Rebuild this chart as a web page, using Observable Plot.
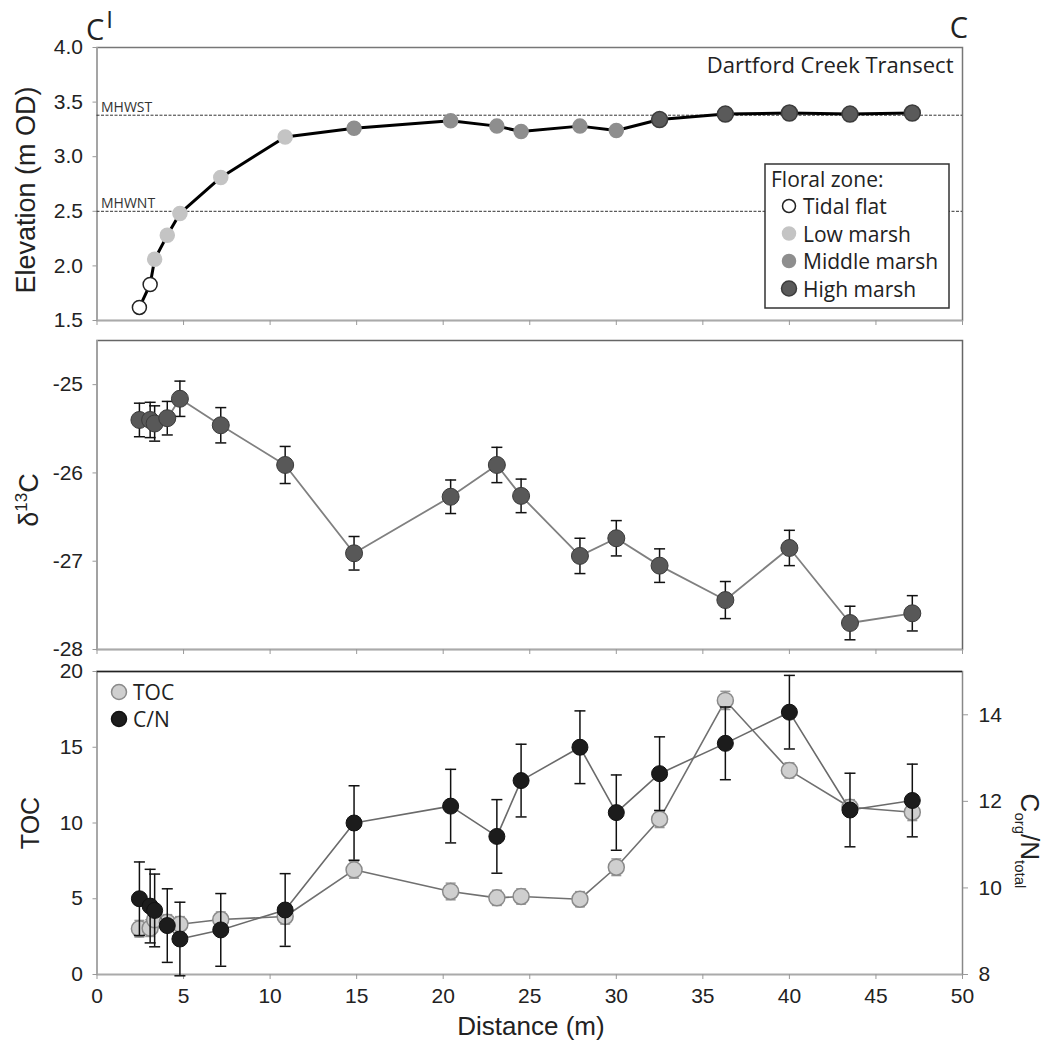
<!DOCTYPE html>
<html><head><meta charset="utf-8">
<script src="https://cdn.jsdelivr.net/npm/d3@7"></script>
<script src="https://cdn.jsdelivr.net/npm/@observablehq/plot@0.6"></script>
<style>
body{margin:0;background:#fff;}
#wrap{position:relative;width:1047px;height:1043px;overflow:hidden;background:#fff;}
#wrap svg{position:absolute;left:0;overflow:visible;}
</style></head><body><div id="wrap"></div>
<script>
// ---------- data ----------
const distance = [2.45, 3.07, 3.33, 4.06, 4.79, 7.15, 10.87, 14.85, 20.43, 23.1, 24.5, 27.9, 30.0, 32.5, 36.3, 40.0, 43.5, 47.1];
const elevation = [1.62, 1.83, 2.06, 2.28, 2.48, 2.81, 3.18, 3.26, 3.33, 3.28, 3.23, 3.28, 3.24, 3.34, 3.39, 3.40, 3.39, 3.40];
const zone = ["Tidal flat","Tidal flat","Low marsh","Low marsh","Low marsh","Low marsh","Low marsh",
  "Middle marsh","Middle marsh","Middle marsh","Middle marsh","Middle marsh","Middle marsh",
  "High marsh","High marsh","High marsh","High marsh","High marsh"];
const zones = ["Tidal flat","Low marsh","Middle marsh","High marsh"];
const zoneFill = ["#ffffff","#c4c4c4","#8e8e8e","#5a5a5a"];
const zoneStroke = ["#222222","#c4c4c4","#8e8e8e","#3c3c3c"];
const zoneR = [7, 7, 7, 8];
const tideLevels = [3.38, 2.5];
const tideNames = ["MHWST","MHWNT"];

const d13C = [-25.40, -25.40, -25.44, -25.38, -25.16, -25.46, -25.91, -26.91, -26.27, -25.91, -26.26, -26.94, -26.74, -27.05, -27.44, -26.85, -27.70, -27.59];
const d13CErr = [0.19, 0.20, 0.20, 0.19, 0.20, 0.20, 0.21, 0.19, 0.19, 0.20, 0.19, 0.20, 0.20, 0.19, 0.21, 0.20, 0.19, 0.20];

const toc = [3.02, 3.06, 3.61, 3.45, 3.32, 3.63, 3.83, 6.91, 5.48, 5.06, 5.15, 4.97, 7.08, 10.25, 18.09, 13.47, 11.04, 10.71];
const tocErr = [0.55, 0.55, 0.5, 0.5, 0.5, 0.5, 0.5, 0.55, 0.55, 0.5, 0.5, 0.5, 0.55, 0.55, 0.6, 0.5, 0.5, 0.55];
const cn = [9.75, 9.58, 9.48, 9.13, 8.82, 9.03, 9.49, 11.50, 11.89, 11.19, 12.48, 13.25, 11.74, 12.64, 13.34, 14.06, 11.80, 12.02];
const cnErr = [0.85, 0.85, 0.84, 0.85, 0.85, 0.84, 0.84, 0.86, 0.85, 0.85, 0.84, 0.84, 0.87, 0.85, 0.84, 0.85, 0.85, 0.84];

const xTicks = [0, 5, 10, 15, 20, 25, 30, 35, 40, 45, 50];
const elevTicks = [1.5, 2.0, 2.5, 3.0, 3.5, 4.0];
const d13CTicks = [-25, -26, -27, -28];
const tocTicks = [0, 5, 10, 15, 20];
const cnTicks = [8, 10, 12, 14];
const tocDomain = [0, 20];
const cnDomain = [8, 15];

// ---------- helpers ----------
const W = 1047, ML = 96.5, MR = 85;
const tickFont = "Liberation Sans, Arial, sans-serif";
const labFont = "Open Sans, Noto Sans, sans-serif";
const cap = {draw(ctx, size){ const h = Math.sqrt(size/Math.PI); ctx.moveTo(-h,0); ctx.lineTo(h,0); }};
const cnToY = v => tocDomain[0] + (v - cnDomain[0]) * (tocDomain[1]-tocDomain[0])/(cnDomain[1]-cnDomain[0]);

const rows = distance.map((d,i) => ({distance:d, elevation:elevation[i], zone:zone[i],
  d13C:d13C[i], d13CErr:d13CErr[i], toc:toc[i], tocErr:tocErr[i], cn:cn[i], cnErr:cnErr[i]}));

const wrap = document.getElementById("wrap");
function place(svg, top){ svg.style.top = top + "px"; wrap.appendChild(svg); }
const baseStyle = {fontFamily: tickFont, fontSize: "21px", color: "#222", background: "transparent", overflow:"visible"};

// ---------- panel 1: elevation ----------
const p1 = Plot.plot({
  width: W, height: 335, marginTop: 47, marginBottom: 15, marginLeft: ML, marginRight: MR,
  style: baseStyle,
  x: {domain: [0, 50]}, y: {domain: [1.5, 4.0]},
  marks: [
    Plot.frame({stroke: "#777", strokeWidth: 1.5}),
    Plot.ruleX([0], {stroke: "#aaa", strokeWidth: 1.5}),
    Plot.ruleY([1.5], {stroke: "#aaa", strokeWidth: 1.5}),
    Plot.axisX({ticks: xTicks, tickFormat: () => "", tickSize: 5, stroke: "#999", label: null}),
    Plot.axisY({ticks: elevTicks, tickFormat: d3.format(".1f"), tickSize: 4, tickPadding: 10, stroke: "#999", label: null}),
    Plot.ruleY(tideLevels, {stroke: "#333", strokeWidth: 1, strokeDasharray: "3,1.5"}),
    Plot.text(tideLevels, {y: d => d, frameAnchor: "left", text: (d,i) => tideNames[i], dx: 4, dy: -3,
      lineAnchor: "bottom", textAnchor: "start", fontSize: 14, fill: "#333", fontFamily: labFont}),
    Plot.line(rows, {x: "distance", y: "elevation", stroke: "#000", strokeWidth: 3}),
    ...zones.map((z,i) => Plot.dot(rows.filter(d => d.zone === z), {x: "distance", y: "elevation",
      r: zoneR[i], fill: zoneFill[i], stroke: zoneStroke[i], strokeWidth: 1.5})),
    Plot.text(["Dartford Creek Transect"], {frameAnchor: "top-right", dx: -9, dy: 10, lineAnchor: "top",
      fontSize: 22, fill: "#222", fontFamily: labFont})
  ]
});
place(p1, 0);

// ---------- panel 2: d13C ----------
const p2 = Plot.plot({
  width: W, height: 320, marginTop: 5, marginBottom: 6, marginLeft: ML, marginRight: MR,
  style: baseStyle,
  x: {domain: [0, 50]}, y: {domain: [-28, -24.5]},
  marks: [
    Plot.frame({stroke: "#666", strokeWidth: 1.5}),
    Plot.ruleX([0], {stroke: "#aaa", strokeWidth: 1.5}),
    Plot.ruleY([-28], {stroke: "#aaa", strokeWidth: 1.5}),
    Plot.axisX({ticks: xTicks, tickFormat: () => "", tickSize: 5, stroke: "#999", label: null}),
    Plot.axisY({ticks: d13CTicks, tickFormat: d => String(d), tickSize: 4, tickPadding: 10, stroke: "#999", label: null}),
    Plot.line(rows, {x: "distance", y: "d13C", stroke: "#808080", strokeWidth: 1.8}),
    Plot.ruleX(rows, {x: "distance", y1: d => d.d13C - d.d13CErr, y2: d => d.d13C + d.d13CErr, stroke: "#111", strokeWidth: 1.5}),
    Plot.dot(rows, {x: "distance", y: d => d.d13C - d.d13CErr, symbol: cap, r: 5.5, fill: "none", stroke: "#111", strokeWidth: 1.5}),
    Plot.dot(rows, {x: "distance", y: d => d.d13C + d.d13CErr, symbol: cap, r: 5.5, fill: "none", stroke: "#111", strokeWidth: 1.5}),
    Plot.dot(rows, {x: "distance", y: "d13C", r: 8.5, fill: "#585858", stroke: "#3a3a3a", strokeWidth: 1})
  ]
});
place(p2, 335);

// ---------- panel 3: TOC & C/N ----------
const p3 = Plot.plot({
  width: W, height: 388, marginTop: 16, marginBottom: 69, marginLeft: ML, marginRight: MR,
  style: baseStyle,
  x: {domain: [0, 50]}, y: {domain: tocDomain},
  marks: [
    Plot.frame({stroke: "#888", strokeWidth: 1.5}),
    Plot.ruleX([0], {stroke: "#aaa", strokeWidth: 1.5}),
    Plot.ruleY([tocDomain[1]], {stroke: "#222", strokeWidth: 1.5}),
    Plot.ruleY([tocDomain[0]], {stroke: "#aaa", strokeWidth: 1.5}),
    Plot.axisX({ticks: xTicks, tickSize: 5, tickPadding: 9, stroke: "#999", label: null}),
    Plot.axisY({ticks: tocTicks, tickFormat: d => String(d), tickSize: 4, tickPadding: 10, stroke: "#999", label: null}),
    Plot.axisY({anchor: "right", ticks: cnTicks.map(cnToY), tickFormat: (v,i) => String(cnTicks[i]),
      tickSize: 5, tickPadding: 11, stroke: "#999", label: null}),
    // TOC
    Plot.line(rows, {x: "distance", y: "toc", stroke: "#707070", strokeWidth: 1.6}),
    Plot.ruleX(rows, {x: "distance", y1: d => d.toc - d.tocErr, y2: d => d.toc + d.tocErr, stroke: "#999", strokeWidth: 1.5}),
    Plot.dot(rows, {x: "distance", y: d => d.toc - d.tocErr, symbol: cap, r: 5, fill: "none", stroke: "#999", strokeWidth: 1.5}),
    Plot.dot(rows, {x: "distance", y: d => d.toc + d.tocErr, symbol: cap, r: 5, fill: "none", stroke: "#999", strokeWidth: 1.5}),
    Plot.dot(rows, {x: "distance", y: "toc", r: 8, fill: "#cfcfcf", stroke: "#8a8a8a", strokeWidth: 1.5}),
    // C/N (plotted against the right axis)
    Plot.line(rows, {x: "distance", y: d => cnToY(d.cn), stroke: "#6a6a6a", strokeWidth: 1.6}),
    Plot.ruleX(rows, {x: "distance", y1: d => cnToY(d.cn - d.cnErr), y2: d => cnToY(d.cn + d.cnErr), stroke: "#111", strokeWidth: 1.5}),
    Plot.dot(rows, {x: "distance", y: d => cnToY(d.cn - d.cnErr), symbol: cap, r: 5.5, fill: "none", stroke: "#111", strokeWidth: 1.5}),
    Plot.dot(rows, {x: "distance", y: d => cnToY(d.cn + d.cnErr), symbol: cap, r: 5.5, fill: "none", stroke: "#111", strokeWidth: 1.5}),
    Plot.dot(rows, {x: "distance", y: d => cnToY(d.cn), r: 8, fill: "#1c1c1c", stroke: "#111", strokeWidth: 1})
  ]
});
place(p3, 655);

// ---------- annotations (titles, legends) ----------
const ov = d3.create("svg").attr("width", W).attr("height", 1043)
  .style("top", "0px").style("pointer-events", "none");
const t = (x, y, s, opts = {}) => ov.append("text").attr("x", x).attr("y", y)
  .attr("font-family", opts.font || tickFont).attr("font-size", opts.size || 27)
  .attr("fill", opts.fill || "#222").attr("text-anchor", opts.anchor || "middle").text(s);

// C' and C markers
const cl = t(86, 40, "C", {font: labFont, size: 29, anchor: "start"});
cl.append("tspan").attr("font-size", 24).attr("dx", 2).attr("dy", -12).text("I");
t(959, 38, "C", {font: labFont, size: 29});

// y-axis titles
t(0, 0, "Elevation (m OD)", {size: 27}).attr("transform", "translate(35,190) rotate(-90)");
const dl = t(0, 0, "δ", {size: 27}).attr("transform", "translate(38,500) rotate(-90)");
dl.append("tspan").attr("font-size", 17).attr("dy", -11).text("13");
dl.append("tspan").attr("dy", 11).text("C");
t(0, 0, "TOC", {size: 25}).attr("transform", "translate(39,823) rotate(-90)");
const cnl = t(0, 0, "C", {size: 26}).attr("transform", "translate(1021,841) rotate(90)");
cnl.append("tspan").attr("font-size", 15).attr("dy", 6).text("org");
cnl.append("tspan").attr("dy", -6).text("/N");
cnl.append("tspan").attr("font-size", 15).attr("dy", 6).text("total");
t(531, 1035, "Distance (m)", {size: 26});

// floral zone legend
ov.append("rect").attr("x", 765).attr("y", 164).attr("width", 184).attr("height", 144)
  .attr("fill", "#fff").attr("stroke", "#333").attr("stroke-width", 1.5);
t(771, 187, "Floral zone:", {font: labFont, size: 21, anchor: "start"});
zones.forEach((z, i) => {
  const cy = 206 + i * 27.5;
  ov.append("circle").attr("cx", 789).attr("cy", cy).attr("r", zoneR[i] - 0.5)
    .attr("fill", zoneFill[i]).attr("stroke", zoneStroke[i]).attr("stroke-width", 1.5);
  t(803, cy + 8, z, {font: labFont, size: 21, anchor: "start"});
});

// TOC / C/N legend
const serNames = ["TOC", "C/N"], serFill = ["#cfcfcf", "#1c1c1c"], serStroke = ["#8a8a8a", "#111"];
serNames.forEach((s, i) => {
  const cy = 692 + i * 27;
  ov.append("circle").attr("cx", 119).attr("cy", cy).attr("r", 7.5)
    .attr("fill", serFill[i]).attr("stroke", serStroke[i]).attr("stroke-width", 1.5);
  t(133, cy + 8, s, {font: labFont, size: 21, anchor: "start"});
});
wrap.appendChild(ov.node());
</script></body></html>
